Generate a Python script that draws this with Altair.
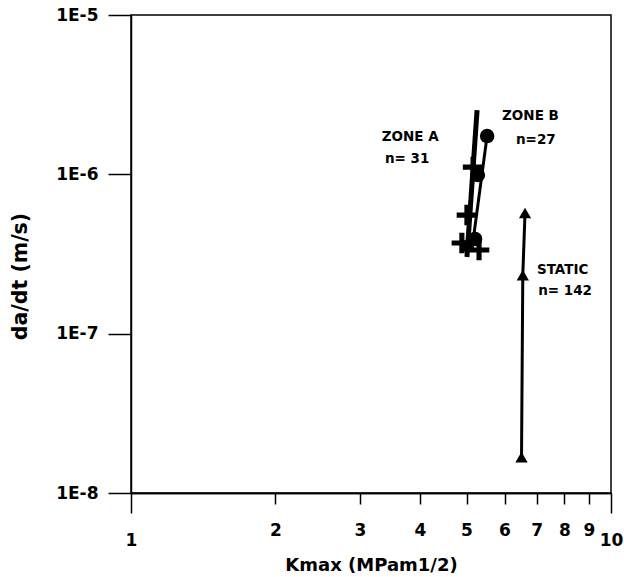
import altair as alt
import pandas as pd

# Zone A (fit line and "+" points)
zone_a_fit_k = [5.26, 5.01]
zone_a_fit_v = [2.53e-6, 3.03e-7]
zone_a_k = [5.16, 5.01, 4.89, 5.31]
zone_a_v = [1.11e-6, 5.55e-7, 3.71e-7, 3.35e-7]
zone_a_sq_k = [5.04]
zone_a_sq_v = [3.55e-7]

# Zone B (fit line and circle points)
zone_b_fit_k = [5.54, 5.13]
zone_b_fit_v = [1.90e-6, 3.35e-7]
zone_b_k = [5.52, 5.28, 5.21]
zone_b_v = [1.74e-6, 9.9e-7, 3.93e-7]

# Static
static_k = [6.62, 6.55, 6.51]
static_v = [5.72e-7, 2.33e-7, 1.68e-8]

# Annotations
label_text = ["ZONE A", "n= 31", "ZONE B", "n=27", "STATIC", "n= 142"]
label_k = [3.33, 3.38, 5.93, 6.34, 7.01, 7.05]
label_v = [1.72e-6, 1.24e-6, 2.32e-6, 1.65e-6, 2.52e-7, 1.86e-7]

x_minor_ticks = [2, 3, 4, 5, 6, 7, 8, 9]
x_major_ticks = [1, 10]
y_ticks = [1e-5, 1e-6, 1e-7, 1e-8]

FONT = "DejaVu Sans"

xscale = alt.Scale(type="log", domain=[1, 10], nice=False)
yscale = alt.Scale(type="log", domain=[1e-8, 1e-5], nice=False)

x_axis_minor = alt.Axis(values=x_minor_ticks, tickSize=11, labelPadding=18,
                        grid=False, title=None, orient="bottom", format="d",
                        labelFlush=False,
                        labelFontSize=17, labelFont=FONT, labelFontWeight="bold")
y_axis = alt.Axis(values=y_ticks, labelExpr="'1E' + round(log(datum.value)/LN10)",
                  tickSize=23, labelPadding=10, grid=False, title="da/dt (m/s)",
                  labelFlush=False,
                  labelFontSize=17, labelFont=FONT, labelFontWeight="bold",
                  titleFontSize=20.5, titleFont=FONT, titleFontWeight="bold",
                  titlePadding=25, titleY=261)


def xenc():
    return alt.X("k:Q", scale=xscale, axis=x_axis_minor)


def yenc():
    return alt.Y("v:Q", scale=yscale, axis=y_axis)


def frame(k, v, **extra):
    d = {"k": k, "v": v}
    d.update(extra)
    return pd.DataFrame(d)


line_a = alt.Chart(frame(zone_a_fit_k, zone_a_fit_v)).mark_line(
    color="black", strokeWidth=5).encode(x=xenc(), y=yenc())
line_b = alt.Chart(frame(zone_b_fit_k, zone_b_fit_v)).mark_line(
    color="black", strokeWidth=3).encode(x=xenc(), y=yenc())
line_s = alt.Chart(frame(static_k, static_v)).mark_line(
    color="black", strokeWidth=3).encode(x=xenc(), y=yenc())

plus_path = "M -1 -0.25 H 1 V 0.25 H -1 Z M -0.25 -1 H 0.25 V 1 H -0.25 Z"
pts_a = alt.Chart(frame(zone_a_k, zone_a_v)).mark_point(
    shape=plus_path, filled=True, color="black", size=420, opacity=1).encode(x=xenc(), y=yenc())
sq_a = alt.Chart(frame(zone_a_sq_k, zone_a_sq_v)).mark_point(
    shape="square", filled=True, color="black", size=130, opacity=1).encode(x=xenc(), y=yenc())
pts_b = alt.Chart(frame(zone_b_k, zone_b_v)).mark_point(
    shape="circle", filled=True, color="black", size=210, opacity=1).encode(x=xenc(), y=yenc())
pts_s = alt.Chart(frame(static_k, static_v)).mark_point(
    shape="triangle-up", filled=True, color="black", size=150, opacity=1).encode(x=xenc(), y=yenc())

labels = alt.Chart(frame(label_k, label_v, t=label_text)).mark_text(
    align="left", baseline="middle", font=FONT, fontWeight="bold", fontSize=13.5,
    color="black").encode(x=xenc(), y=yenc(), text="t:N")

inner = alt.layer(line_a, line_b, line_s, pts_a, sq_a, pts_b, pts_s, labels)

major_axis = alt.Axis(values=x_major_ticks, tickSize=20, labelPadding=19, grid=False,
                      orient="bottom", format="d", title="Kmax (MPam1/2)",
                      labelFlush=False,
                      labelFontSize=17, labelFont=FONT, labelFontWeight="bold",
                      titleFontSize=18, titleFont=FONT, titleFontWeight="bold",
                      titlePadding=8)
dummy = alt.Chart(frame(x_major_ticks, [1e-8, 1e-8])).mark_point(opacity=0).encode(
    x=alt.X("k:Q", scale=xscale, axis=major_axis), y=yenc())

chart = alt.layer(inner, dummy).resolve_scale(x="independent").properties(
    width=480, height=478,
    padding={"left": 131, "top": 15, "right": 13, "bottom": 84},
    autosize=alt.AutoSizeParams(type="none"),
    background="white",
).configure_view(stroke="black", strokeWidth=1.5).configure_axis(
    domainColor="black", domainWidth=1.5, tickColor="black", tickWidth=1.5,
    labelColor="black", titleColor="black")

chart.save("out.html", embed_options={"renderer": "svg", "actions": False})
